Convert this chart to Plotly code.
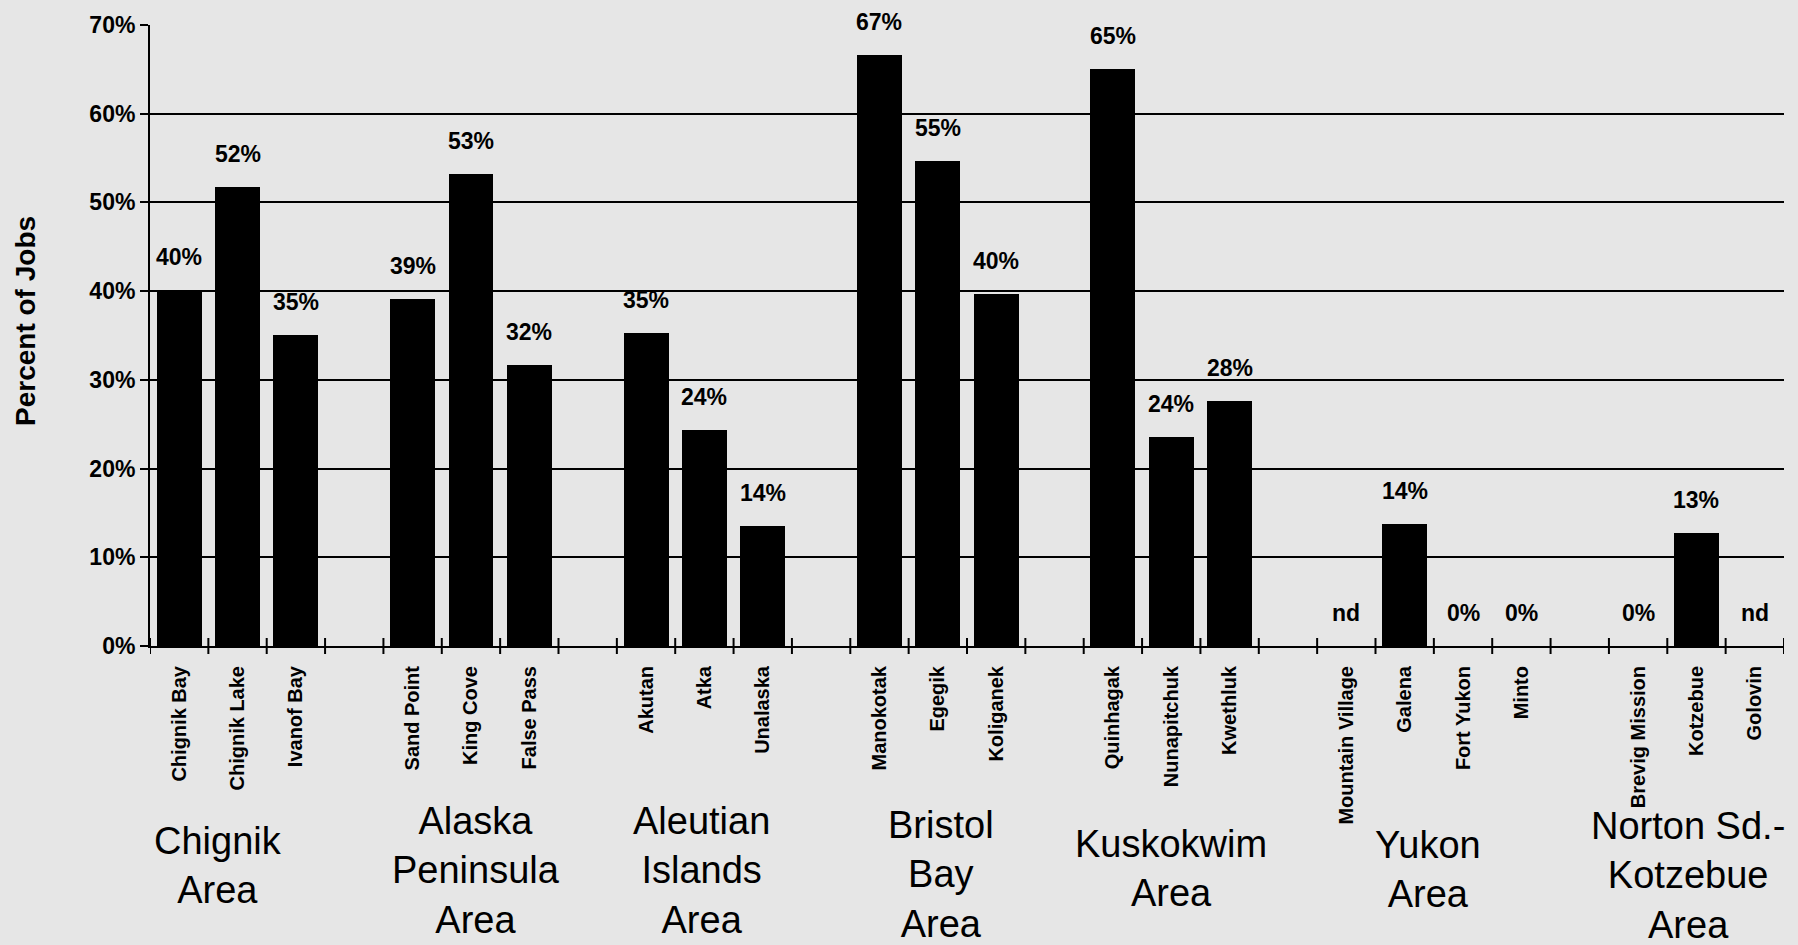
import plotly.graph_objects as go

# Area groupings and the communities in each
group_labels = ["Chignik<br>Area", "Alaska<br>Peninsula<br>Area", "Aleutian<br>Islands<br>Area",
                "Bristol<br>Bay<br>Area", "Kuskokwim<br>Area", "Yukon<br>Area",
                "Norton Sd.-<br>Kotzebue<br>Area"]
group_sizes = [3, 3, 3, 3, 3, 4, 3]
towns = ["Chignik Bay", "Chignik Lake", "Ivanof Bay",
         "Sand Point", "King Cove", "False Pass",
         "Akutan", "Atka", "Unalaska",
         "Manokotak", "Egegik", "Koliganek",
         "Quinhagak", "Nunapitchuk", "Kwethluk",
         "Mountain Village", "Galena", "Fort Yukon", "Minto",
         "Brevig Mission", "Kotzebue", "Golovin"]
# Percent of jobs; None means no data ("nd")
pct_jobs = [40.1, 51.7, 35.1,
            39.1, 53.2, 31.7,
            35.3, 24.4, 13.5,
            66.6, 54.7, 39.7,
            65.0, 23.6, 27.6,
            None, 13.8, 0, 0,
            0, 12.7, None]
y_ticks = [0, 10, 20, 30, 40, 50, 60, 70]

# layout geometry (pixels)
W, H = 1798, 945
ML, MR, MT, MB = 150, 14, 25, 299
PH = H - MT - MB
PW = W - ML - MR
FONT = "Liberation Sans, Arial, sans-serif"

# slot positions: one empty slot between area groups
xpos, centers = [], []
slot = 0
for size in group_sizes:
    idx = list(range(slot, slot + size))
    xpos += idx
    centers.append(sum(idx) / size)
    slot += size + 1
n_slots = slot - 1

fig = go.Figure(go.Bar(
    x=xpos, y=[v if v is not None else 0 for v in pct_jobs],
    marker=dict(color="black", line=dict(width=0)),
    width=0.77, hoverinfo="skip",
))

# value labels above bars
for x, v in zip(xpos, pct_jobs):
    fig.add_annotation(
        x=x, y=v if v is not None else 0, xref="x", yref="y",
        text="nd" if v is None else f"{round(v)}%",
        showarrow=False, yanchor="bottom", yshift=18,
        font=dict(family=FONT, size=23, color="black", weight="bold"),
    )

# crossing tick marks at slot boundaries on the zero line
for k in range(n_slots + 1):
    b = k - 0.5
    fig.add_shape(type="line", xref="x", yref="paper", x0=b, x1=b,
                  ysizemode="pixel", yanchor=0, y0=-8, y1=8,
                  line=dict(color="black", width=2))

# area group labels below the community names
label_y = [865, 870, 870, 874, 868, 869, 876]
label_dx = [-20, 5, -3, 3, 0, -6, -8]
for c, txt, py, dx in zip(centers, group_labels, label_y, label_dx):
    fig.add_annotation(
        x=c, xref="x", y=(H - MB - py) / PH, yref="paper",
        text=txt, showarrow=False, xshift=dx, yanchor="middle",
        xanchor="center", align="center",
        font=dict(family=FONT, size=38, color="black"),
    )

# y-axis title
fig.add_annotation(
    x=(25 - ML) / PW, xref="paper", y=(H - MB - 321) / PH, yref="paper",
    text="Percent of Jobs", textangle=-90, showarrow=False,
    xanchor="center", yanchor="middle",
    font=dict(family=FONT, size=28, color="black", weight="bold"),
)

fig.update_layout(
    width=W, height=H,
    margin=dict(l=ML, r=MR, t=MT, b=MB),
    paper_bgcolor="#e6e6e6", plot_bgcolor="#e6e6e6",
    showlegend=False, bargap=0,
)
fig.update_xaxes(
    range=[-0.5, n_slots - 0.5],
    tickmode="array", tickvals=xpos, ticktext=towns,
    tickangle=-90, ticks="", ticklabelstandoff=10,
    tickfont=dict(family=FONT, size=20, color="black", weight="bold"),
    showgrid=False, zeroline=False,
    showline=True, linecolor="black", linewidth=2,
)
fig.update_yaxes(
    range=[0, 70], tickvals=y_ticks, ticktext=[f"{t}%" for t in y_ticks],
    tickfont=dict(family=FONT, size=23, color="black", weight="bold"),
    ticks="outside", ticklen=8, tickwidth=2, tickcolor="black",
    showgrid=True, gridcolor="black", gridwidth=2,
    zeroline=False, showline=True, linecolor="black", linewidth=2,
)

fig.write_html("out.html")
